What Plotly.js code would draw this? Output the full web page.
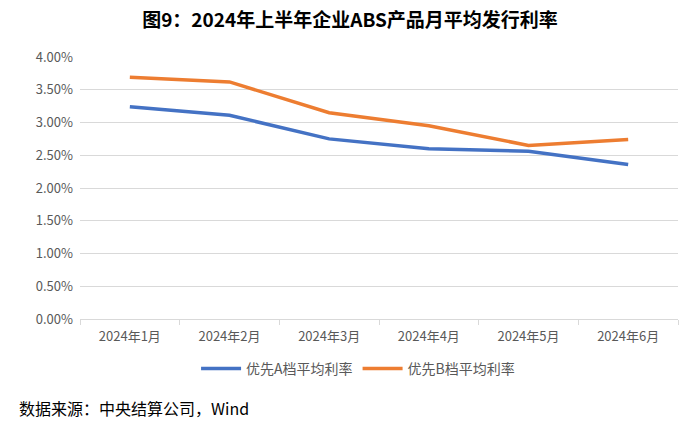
<!DOCTYPE html>
<html><head><meta charset="utf-8">
<script src="https://cdn.plot.ly/plotly-3.0.1.min.js"></script>
<style>html,body{margin:0;padding:0;background:#fff}#chart{width:700px;height:442px}</style>
</head><body><div id="chart"></div>
<script>
const months = ['2024年1月','2024年2月','2024年3月','2024年4月','2024年5月','2024年6月'];
const seriesA = [3.24, 3.11, 2.75, 2.60, 2.56, 2.36];
const seriesB = [3.69, 3.62, 3.15, 2.95, 2.65, 2.74];
const nameA = '优先A档平均利率';
const nameB = '优先B档平均利率';
const yTicks = [0,0.5,1,1.5,2,2.5,3,3.5,4];
const yTickText = yTicks.map(v => v.toFixed(2) + '%');

const font = 'Noto Sans CJK SC, Noto Sans, sans-serif';
const traces = [
  {x: months, y: seriesA, name: nameA, type: 'scatter', mode: 'lines', line: {color: '#4472C4', width: 3.5}},
  {x: months, y: seriesB, name: nameB, type: 'scatter', mode: 'lines', line: {color: '#ED7D31', width: 3.5}}
];
const layout = {
  width: 700, height: 442,
  margin: {l: 80, r: 22, t: 57, b: 123},
  paper_bgcolor: '#fff', plot_bgcolor: '#fff',
  title: {text: '<b>图9：2024年上半年企业ABS产品月平均发行利率</b>', x: 0.5, xanchor: 'center', y: 0.955, yanchor: 'middle', font: {family: font, size: 19, color: '#000'}},
  xaxis: {type: 'category', range: [-0.5, 5.5], showline: true, linecolor: '#d9d9d9', linewidth: 1, ticks: 'outside', tickson: 'boundaries', ticklen: 5, tickcolor: '#d9d9d9', showgrid: false, tickfont: {family: font, size: 13, color: '#595959'}, ticklabelstandoff: 5, fixedrange: true},
  yaxis: {range: [0, 4], tickvals: yTicks, ticktext: yTickText, showgrid: true, gridcolor: '#d9d9d9', gridwidth: 1, zeroline: false, showline: false, tickfont: {family: font, size: 13, color: '#595959'}, ticks: '', ticklabelstandoff: 6, fixedrange: true},
  legend: {orientation: 'h', x: 0.465, xanchor: 'center', y: -0.19, yanchor: 'middle', font: {family: font, size: 14, color: '#595959'}, itemwidth: 40, tracegroupgap: 0},
  showlegend: true,
  annotations: [{text: '数据来源：中央结算公司，Wind', xref: 'paper', yref: 'paper', x: -0.105, xanchor: 'left', y: -0.34, yanchor: 'middle', showarrow: false, font: {family: font, size: 16, color: '#000'}}]
};
Plotly.newPlot('chart', traces, layout, {displayModeBar: false, staticPlot: true});
</script></body></html>
